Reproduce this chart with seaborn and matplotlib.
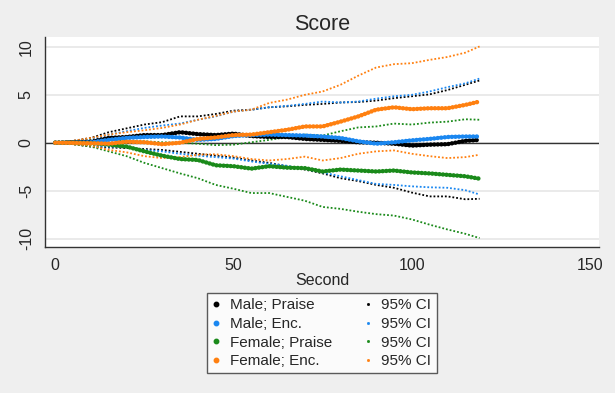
import matplotlib
matplotlib.use("Agg")
import matplotlib.pyplot as plt
from matplotlib.lines import Line2D
import seaborn as sns

# Data (cumulative score by second)
seconds = [0, 5, 10, 15, 20, 25, 30, 35, 40, 45, 50, 55, 60, 65, 70, 75,
           80, 85, 90, 95, 100, 105, 110, 115, 119]

male_praise = [0, 0.05, 0.1, 0.5, 0.6, 0.8, 0.8, 1.1, 0.9, 0.8, 0.95, 0.7, 0.6,
               0.6, 0.4, 0.3, 0.2, 0.05, 0, -0.1, -0.3, -0.2, -0.15, 0.2, 0.3]
male_enc = [0, 0.02, 0.05, 0.3, 0.5, 0.6, 0.65, 0.55, 0.3, 0.4, 0.7, 0.8, 0.85,
            0.8, 0.75, 0.65, 0.5, 0.15, -0.1, 0.05, 0.25, 0.4, 0.6, 0.65, 0.65]
female_praise = [0, 0, -0.05, -0.2, -0.4, -0.9, -1.35, -1.7, -1.8, -2.35, -2.45,
                 -2.7, -2.45, -2.6, -2.65, -3.0, -2.8, -2.9, -3.0, -2.9, -3.1,
                 -3.2, -3.35, -3.5, -3.75]
female_enc = [0, -0.02, -0.05, -0.1, 0.1, 0.05, -0.15, 0, 0.4, 0.55, 0.8, 0.85,
              1.1, 1.35, 1.7, 1.7, 2.2, 2.75, 3.45, 3.7, 3.5, 3.6, 3.6, 3.95, 4.3]

male_praise_hi = [0, 0.2, 0.5, 1.1, 1.5, 1.9, 2.15, 2.75, 2.75, 3.0, 3.35, 3.45,
                  3.7, 3.8, 3.95, 4.05, 4.2, 4.25, 4.4, 4.65, 4.85, 5.05, 5.5,
                  6.05, 6.5]
male_praise_lo = [0, -0.15, -0.4, -0.5, -0.55, -0.65, -0.75, -0.95, -1.15, -1.35,
                  -1.55, -1.85, -2.1, -2.45, -2.8, -3.2, -3.7, -4.0, -4.4, -4.7,
                  -5.2, -5.6, -5.6, -5.9, -5.85]
male_enc_hi = [0, 0.1, 0.3, 0.85, 1.2, 1.55, 1.8, 2.0, 2.4, 2.75, 3.25, 3.45, 3.7,
               3.85, 4.05, 4.3, 4.2, 4.3, 4.6, 4.85, 5.0, 5.35, 5.8, 6.2, 6.7]
male_enc_lo = [0, -0.1, -0.3, -0.4, -0.45, -0.75, -0.9, -1.15, -1.35, -1.5, -1.65,
               -1.95, -2.2, -2.4, -2.75, -3.1, -3.5, -3.9, -4.3, -4.4, -4.55,
               -4.65, -4.7, -4.95, -5.4]
female_praise_hi = [0, 0.1, 0.25, 0.3, 0.15, 0.15, 0.05, 0, -0.1, -0.25, -0.2,
                    0.05, 0.3, 0.6, 0.85, 0.75, 1.2, 1.6, 1.7, 2.0, 1.9, 2.1, 2.2,
                    2.45, 2.4]
female_praise_lo = [0, -0.15, -0.4, -0.9, -1.4, -2.1, -2.65, -3.2, -3.7, -4.4,
                    -4.8, -5.25, -5.25, -5.65, -6.05, -6.7, -6.9, -7.2, -7.45,
                    -7.6, -8.0, -8.55, -9.05, -9.5, -9.95]
female_enc_hi = [0, 0.2, 0.5, 0.85, 1.1, 1.3, 1.55, 1.9, 2.4, 2.8, 3.25, 3.45,
                 4.15, 4.5, 5.0, 5.35, 6.05, 7.0, 7.85, 8.2, 8.3, 8.65, 8.95, 9.4,
                 10.05]
female_enc_lo = [0, -0.15, -0.3, -0.75, -1.0, -1.4, -1.6, -1.5, -1.25, -1.2, -1.4,
                 -1.7, -1.85, -1.7, -1.45, -1.85, -1.6, -1.15, -0.9, -0.8, -1.15,
                 -1.4, -1.6, -1.5, -1.25]

labels = ["Male; Praise", "Male; Enc.", "Female; Praise", "Female; Enc."]
colors = ["#000000", "#1a87f0", "#1a8a1a", "#ff8010"]
means = [male_praise, male_enc, female_praise, female_enc]
highs = [male_praise_hi, male_enc_hi, female_praise_hi, female_enc_hi]
lows = [male_praise_lo, male_enc_lo, female_praise_lo, female_enc_lo]

yticks = [-10, -5, 0, 5, 10]
xticks = [0, 50, 100, 150]

sns.set_theme(style="white")
plt.rcParams["font.family"] = ["Liberation Sans", "DejaVu Sans"]

fig = plt.figure(figsize=(6.15, 3.93), dpi=100, facecolor="#efefef")
ax = fig.add_axes([0.073, 0.371, 0.901, 0.534])
ax.set_facecolor("white")

for y in yticks:
    ax.axhline(y, color="#e6e6e6", lw=1.2, zorder=0)
ax.axhline(0, color="#333333", lw=1.0, zorder=1)

# confidence bands as dotted lines
for hi, lo, c in zip(highs, lows, colors):
    for band in (hi, lo):
        sns.lineplot(x=seconds, y=band, ax=ax, color=c, lw=1.3,
                     linestyle=(0, (1, 1.1)), zorder=2)

# means as thick chains of dots
for m, c in zip(means, colors):
    sns.lineplot(x=seconds, y=m, ax=ax, color=c, lw=3.2,
                 linestyle=(0, (0.05, 0.75)), dash_capstyle="round", zorder=3)

ax.set_xlim(-2.9, 152.5)
ax.set_ylim(-10.9, 11.0)
ax.set_xticks(xticks)
ax.set_yticks(yticks)
ax.set_yticklabels([str(t) for t in yticks], rotation=90, va="center")
ax.tick_params(axis="both", direction="out", length=5, width=1,
               color="#333333", labelsize=11.5, pad=3)
for side in ["top", "right"]:
    ax.spines[side].set_visible(False)
for side in ["left", "bottom"]:
    ax.spines[side].set_color("#333333")
    ax.spines[side].set_linewidth(1.0)

ax.set_title("Score", fontsize=15.5, pad=5)
ax.set_xlabel("Second", fontsize=11.5, labelpad=0)
ax.set_ylabel("")

handles = [Line2D([], [], color=c, marker="o", markersize=3.2, linestyle="none")
           for c in colors]
handles += [Line2D([], [], color=c, marker="s", markersize=1.0, linestyle="none")
            for c in colors]
leg_labels = labels + ["95% CI"] * 4
leg = ax.legend(handles, leg_labels, ncol=2, loc="center",
                bbox_to_anchor=(0.523, 0.152), bbox_transform=fig.transFigure,
                frameon=True, fancybox=False, fontsize=11, handlelength=0.6,
                handletextpad=0.6, columnspacing=2.0, labelspacing=0.3,
                borderpad=0.35, borderaxespad=0)
leg.get_frame().set_edgecolor("#333333")
leg.get_frame().set_linewidth(1.0)
leg.get_frame().set_facecolor("white")

fig.savefig("out.png", dpi=100, facecolor=fig.get_facecolor())
